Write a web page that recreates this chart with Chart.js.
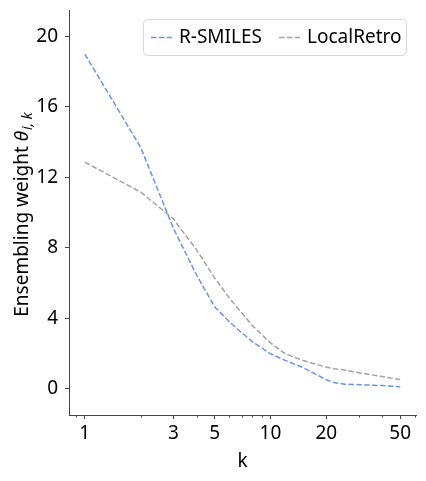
<!DOCTYPE html>
<html>
<head>
<meta charset="utf-8">
<script src="https://cdn.jsdelivr.net/npm/chart.js@4.4.1/dist/chart.umd.min.js"></script>
<style>
  html, body { margin: 0; padding: 0; background: #fff; }
  #wrap { width: 426px; height: 481px; }
</style>
</head>
<body>
<div id="wrap"><canvas id="chart" width="426" height="481"></canvas></div>
<script>
// values
const kValues = [1, 2, 3, 4, 5, 6, 7, 8, 10, 12, 15, 20, 22, 25, 30, 40, 50];
const rSmiles = [19.0, 13.7, 9.1, 6.45, 4.65, 3.8, 3.17, 2.66, 1.98, 1.6, 1.19, 0.5, 0.34, 0.25, 0.22, 0.17, 0.11];
const localRetro = [12.86, 11.16, 9.63, 7.88, 6.29, 5.15, 4.3, 3.57, 2.6, 1.98, 1.59, 1.22, 1.13, 1.05, 0.9, 0.68, 0.51];
const xTicks = [1, 3, 5, 10, 20, 50];
const xMinorTicks = [0.9, 2, 4, 6, 7, 8, 9, 30, 40, 60];
const yTicks = [0, 4, 8, 12, 16, 20];

const FONT = '"Noto Sans", "Open Sans", sans-serif';
const AXIS_COLOR = '#444';

function toPoints(ys) {
    return kValues.map((k, i) => ({ x: k, y: ys[i] }));
}

// minor ticks on the log axis, legend box and axis titles
const extras = {
    id: 'extras',
    afterDraw(chart) {
        const ctx = chart.ctx;
        const xs = chart.scales.x;
        const area = chart.chartArea;

        ctx.save();
        ctx.strokeStyle = AXIS_COLOR;
        ctx.lineWidth = 1;
        xMinorTicks.forEach(v => {
            const px = Math.round(xs.getPixelForValue(v)) + 0.5;
            ctx.beginPath();
            ctx.moveTo(px, area.bottom);
            ctx.lineTo(px, area.bottom + 2.5);
            ctx.stroke();
        });

        // legend
        const lx = 143, ly = 19, lw = 263, lh = 36;
        ctx.fillStyle = 'rgba(255,255,255,0.85)';
        ctx.strokeStyle = '#d6d6d6';
        ctx.beginPath();
        ctx.roundRect(lx + 0.5, ly + 0.5, lw, lh, 4);
        ctx.fill();
        ctx.stroke();

        ctx.font = '19px ' + FONT;
        ctx.textBaseline = 'middle';
        const items = [
            { x: 151, ds: chart.data.datasets[0] },
            { x: 279, ds: chart.data.datasets[1] }
        ];
        items.forEach(it => {
            ctx.strokeStyle = it.ds.borderColor;
            ctx.lineWidth = 1.5;
            ctx.setLineDash(it.ds.borderDash);
            ctx.beginPath();
            ctx.moveTo(it.x, ly + lh / 2 + 0.5);
            ctx.lineTo(it.x + 21, ly + lh / 2 + 0.5);
            ctx.stroke();
            ctx.setLineDash([]);
            ctx.fillStyle = '#000';
            ctx.fillText(it.ds.label, it.x + 28, ly + lh / 2 + 1);
        });

        // x title
        ctx.fillStyle = '#000';
        ctx.textAlign = 'center';
        ctx.textBaseline = 'alphabetic';
        ctx.font = '19px ' + FONT;
        ctx.fillText('k', (area.left + area.right) / 2, 467);

        // y title with italic theta and subscript
        ctx.translate(28, (area.top + area.bottom) / 2 + 2);
        ctx.rotate(-Math.PI / 2);
        ctx.textAlign = 'left';
        const partA = 'Ensembling weight ';
        const partB = '\u03B8';
        const partC = 'i, k';
        const fA = '19px ' + FONT, fB = 'italic 19px ' + FONT, fC = 'italic 14px ' + FONT;
        ctx.font = fA; const wA = ctx.measureText(partA).width;
        ctx.font = fB; const wB = ctx.measureText(partB).width;
        ctx.font = fC; const wC = ctx.measureText(partC).width;
        let x0 = -(wA + wB + wC + 1) / 2;
        ctx.font = fA; ctx.fillText(partA, x0, 0); x0 += wA;
        ctx.font = fB; ctx.fillText(partB, x0, 0); x0 += wB + 1;
        ctx.font = fC; ctx.fillText(partC, x0, 4);
        ctx.restore();
    }
};

new Chart(document.getElementById('chart'), {
    type: 'line',
    data: {
        datasets: [
            {
                label: 'R-SMILES',
                data: toPoints(rSmiles),
                borderColor: '#6b93ea',
                borderWidth: 1.5,
                borderDash: [5.5, 2.4],
                pointRadius: 0,
                tension: 0,
                fill: false
            },
            {
                label: 'LocalRetro',
                data: toPoints(localRetro),
                borderColor: '#a2a2a2',
                borderWidth: 1.5,
                borderDash: [5.5, 2.4],
                pointRadius: 0,
                tension: 0,
                fill: false
            }
        ]
    },
    options: {
        responsive: false,
        animation: false,
        devicePixelRatio: 1,
        layout: { padding: { top: 10, right: 10, left: 0, bottom: 0 } },
        plugins: {
            legend: { display: false },
            tooltip: { enabled: false }
        },
        scales: {
            x: {
                type: 'logarithmic',
                min: 0.822,
                max: 60.8,
                afterBuildTicks: scale => { scale.ticks = xTicks.map(v => ({ value: v })); },
                afterFit: scale => { scale.height = 66; scale.paddingLeft = 0; scale.paddingRight = 0; },
                border: { display: true, color: AXIS_COLOR, width: 1 },
                grid: { display: true, drawOnChartArea: false, drawTicks: true, tickLength: 4, color: AXIS_COLOR },
                ticks: {
                    autoSkip: false,
                    maxRotation: 0,
                    padding: 3,
                    color: '#000',
                    font: { family: FONT, size: 19 },
                    callback: v => String(v)
                }
            },
            y: {
                type: 'linear',
                min: -1.5,
                max: 21.5,
                afterBuildTicks: scale => { scale.ticks = yTicks.map(v => ({ value: v })); },
                afterFit: scale => { scale.width = 69; scale.paddingTop = 0; scale.paddingBottom = 0; },
                border: { display: true, color: AXIS_COLOR, width: 1 },
                grid: { display: true, drawOnChartArea: false, drawTicks: true, tickLength: 4, color: AXIS_COLOR },
                ticks: {
                    padding: 7,
                    color: '#000',
                    font: { family: FONT, size: 19 },
                    callback: v => String(v)
                }
            }
        }
    },
    plugins: [extras]
});
</script>
</body>
</html>
